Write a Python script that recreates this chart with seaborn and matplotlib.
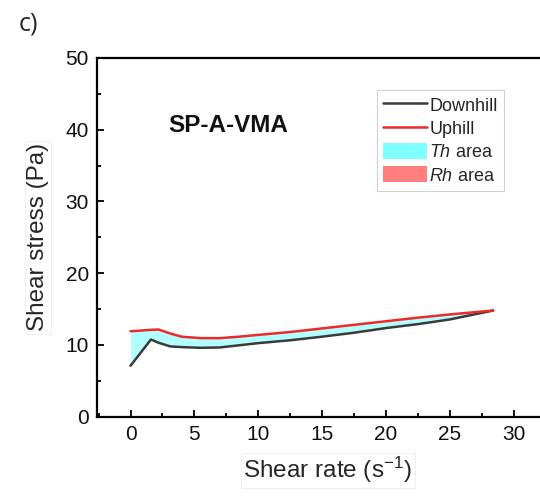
import numpy as np
import pandas as pd
import seaborn as sns
import matplotlib
matplotlib.use("Agg")
import matplotlib.pyplot as plt
from matplotlib.lines import Line2D
from matplotlib.patches import Patch
from matplotlib.ticker import MultipleLocator

# Flow curve data: shear rate (1/s) vs shear stress (Pa)
shear_rate = [0.0, 1.6, 2.2, 3.1, 4.0, 5.5, 7.0, 8.5, 10.0, 12.5, 15.0, 17.5, 20.0, 22.5, 25.0, 28.4]
downhill = [7.1, 10.75, 10.3, 9.8, 9.7, 9.6, 9.65, 9.95, 10.25, 10.65, 11.15, 11.7, 12.35, 12.9, 13.55, 14.8]
uphill = [11.9, 12.1, 12.15, 11.6, 11.15, 10.95, 10.95, 11.15, 11.4, 11.8, 12.3, 12.8, 13.3, 13.8, 14.25, 14.8]

series_labels = ["Downhill", "Uphill"]
area_labels = [r"$\mathit{Th}$ area", r"$\mathit{Rh}$ area"]
panel_tag = "c)"
sample_name = "SP-A-VMA"

sns.set_style("ticks")
plt.rcParams["font.family"] = ["Liberation Sans", "DejaVu Sans"]
plt.rcParams["mathtext.fontset"] = "custom"
plt.rcParams["mathtext.rm"] = "Liberation Sans"
plt.rcParams["mathtext.it"] = "Liberation Sans:italic"
plt.rcParams["mathtext.bf"] = "Liberation Sans:bold"
plt.rcParams["axes.unicode_minus"] = False

df = pd.DataFrame({
    "rate": shear_rate * 2,
    "stress": downhill + uphill,
    "curve": [series_labels[0]] * len(shear_rate) + [series_labels[1]] * len(shear_rate),
})

fig = plt.figure(figsize=(5.4, 4.98), dpi=100)
ax = fig.add_axes([0.1802, 0.1633, 0.8537, 0.7203])

x = np.array(shear_rate)
d = np.array(downhill)
u = np.array(uphill)
th_color = "#80ffff"
rh_color = "#ff7f7f"
ax.fill_between(x, d, u, where=u >= d, interpolate=True, color=th_color, alpha=0.6, lw=0)
ax.fill_between(x, d, u, where=u < d, interpolate=True, color=rh_color, alpha=0.6, lw=0)

line_colors = {series_labels[0]: "#3a3a3a", series_labels[1]: "#f02828"}
sns.lineplot(data=df, x="rate", y="stress", hue="curve", palette=line_colors,
             linewidth=1.8, legend=False, ax=ax, sort=False)

ax.set_xlim(-2.6, 33.5)
ax.set_ylim(0, 50)
ax.xaxis.set_major_locator(MultipleLocator(5))
ax.xaxis.set_minor_locator(MultipleLocator(2.5))
ax.yaxis.set_major_locator(MultipleLocator(10))
ax.yaxis.set_minor_locator(MultipleLocator(5))
ax.tick_params(which="both", direction="in", top=False, right=False, width=1.3, color="black")
ax.tick_params(which="major", length=5, labelsize=15, pad=6, labelcolor="#111111")
ax.tick_params(which="minor", length=3)
for side in ["left", "bottom", "top", "right"]:
    ax.spines[side].set_linewidth(1.6)
    ax.spines[side].set_color("black")

box = dict(boxstyle="square,pad=0.1", fc="white", ec="#f0f0f0", lw=0.8)
ax.set_xlabel(r"Shear rate (s$^{\mathregular{-1}}$)", fontsize=17.5, labelpad=8, bbox=box)
ax.set_ylabel("Shear stress (Pa)", fontsize=17.5, labelpad=12, bbox=box)

ax.text(0.155, 0.813, sample_name, transform=ax.transAxes, fontsize=17.5, fontweight="bold",
        ha="left", va="center", color="#111111")
fig.text(0.034, 0.952, panel_tag, fontsize=18, ha="left", va="center",
         family=["Open Sans", "DejaVu Sans"])

handles = [
    Line2D([], [], color=line_colors[series_labels[0]], lw=1.8),
    Line2D([], [], color=line_colors[series_labels[1]], lw=1.8),
    Patch(facecolor=th_color, edgecolor="none"),
    Patch(facecolor=rh_color, edgecolor="none"),
]
leg = ax.legend(handles, series_labels + area_labels, loc="upper left",
                bbox_to_anchor=(0.6067, 0.9108), fontsize=13, frameon=True,
                fancybox=False, edgecolor="#d0d0d0", framealpha=1,
                handlelength=2.4, handleheight=1.0, handletextpad=0.15,
                labelspacing=0.28, borderpad=0.35, borderaxespad=0)
leg.get_frame().set_linewidth(0.8)

fig.savefig("out.png", dpi=100)
